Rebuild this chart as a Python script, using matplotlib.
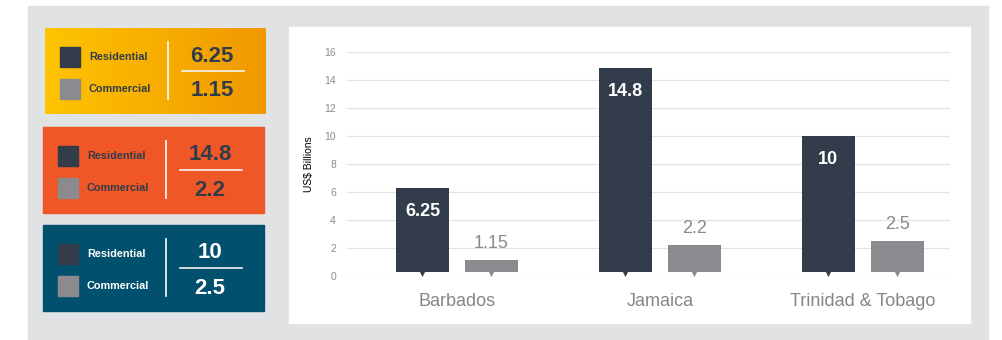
import numpy as np
import matplotlib
matplotlib.use("Agg")
from matplotlib import pyplot as plt
from matplotlib.patches import Rectangle

plt.rcParams['font.family'] = ['Liberation Sans', 'DejaVu Sans']

# chart data
countries = ["Barbados", "Jamaica", "Trinidad & Tobago"]
residential = [6.25, 14.8, 10]
commercial = [1.15, 2.2, 2.5]
y_ticks = [0, 2, 4, 6, 8, 10, 12, 14, 16]
y_label = "US$ Billions"

# side panel styling
box_colors = ["#f9b000", "#ef5726", "#00506e"]
box_text_colors = ["#313c4b", "#313c4b", "#ffffff"]

RES_COLOR = "#323c4a"
COM_COLOR = "#8b8a8f"
GREY_TXT = "#8a8a8e"

W, H = 1003, 340
fig = plt.figure(figsize=(W / 100, H / 100), dpi=100)
fig.patch.set_facecolor("white")

# background layer in pixel coordinates
bg = fig.add_axes([0, 0, 1, 1])
bg.set_xlim(0, W)
bg.set_ylim(H, 0)
bg.axis("off")
bg.add_patch(Rectangle((28, 6), 960, 334, color="#e1e2e4", zorder=0))
bg.add_patch(Rectangle((289, 27), 681, 296, color="white", zorder=1))

box_tops = [28, 127, 225]
box_x = [45, 43, 43]
for i, top in enumerate(box_tops):
    x0 = box_x[i]
    if i == 0:
        # yellow -> amber horizontal gradient
        grad = np.linspace(0, 1, 256).reshape(1, -1)
        cmap = matplotlib.colors.LinearSegmentedColormap.from_list("g", ["#fec400", "#f09800"])
        bg.imshow(grad, cmap=cmap, aspect="auto", extent=(x0, x0 + 221, top + 86, top), zorder=2)
    else:
        bg.add_patch(Rectangle((x0, top), 221, 86, color=box_colors[i], zorder=2))
    tc = box_text_colors[i]
    bg.add_patch(Rectangle((x0 + 15, top + 19), 20, 20, color=RES_COLOR, zorder=3))
    bg.add_patch(Rectangle((x0 + 15, top + 51), 20, 20, color=COM_COLOR, zorder=3))
    bg.text(x0 + 44, top + 29, "Residential", fontsize=7.8, fontweight="bold", color=tc,
            va="center", ha="left", zorder=4)
    bg.text(x0 + 44, top + 61, "Commercial", fontsize=7.8, fontweight="bold", color=tc,
            va="center", ha="left", zorder=4)
    bg.plot([x0 + 123, x0 + 123], [top + 14, top + 71], color="white", lw=1.2, zorder=4)
    bg.plot([x0 + 137, x0 + 199], [top + 43, top + 43], color="#f4f4f4", lw=1.2, zorder=4)
    bg.text(x0 + 167, top + 28, f"{residential[i]:g}", fontsize=16, fontweight="bold", color=tc,
            va="center", ha="center", zorder=4)
    bg.text(x0 + 167, top + 63, f"{commercial[i]:g}", fontsize=16, fontweight="bold", color=tc,
            va="center", ha="center", zorder=4)

# bar chart
ax = fig.add_axes([347 / W, 1 - 276 / H, (950 - 347) / W, (276 - 51.5) / H])
ax.patch.set_alpha(0)
x = np.arange(len(countries))
bw = 0.26
off = 0.17
base = 0.3
ax.bar(x - off, np.array(residential) - base, bw, bottom=base, color=RES_COLOR, zorder=3)
ax.bar(x + off, np.array(commercial) - base, bw, bottom=base, color=COM_COLOR, zorder=3)
ax.scatter(x - off, [0.12] * len(x), marker="v", s=14, color=RES_COLOR, zorder=3, linewidths=0)
ax.scatter(x + off, [0.12] * len(x), marker="v", s=14, color=COM_COLOR, zorder=3, linewidths=0)

for xi, v in zip(x, residential):
    ax.annotate(f"{v:g}", (xi - off, v), xytext=(0, -17), textcoords="offset points",
                ha="center", va="center", color="white", fontsize=13, fontweight="bold", zorder=4)
for xi, v in zip(x, commercial):
    ax.annotate(f"{v:g}", (xi + off, v), xytext=(0, 12), textcoords="offset points",
                ha="center", va="center", color=GREY_TXT, fontsize=13, zorder=4)

ax.set_xlim(-0.542, 2.43)
ax.set_ylim(0, 16)
ax.set_yticks(y_ticks)
ax.set_yticklabels([str(t) for t in y_ticks], fontsize=7.5, color=GREY_TXT)
ax.set_xticks(x)
ax.set_xticklabels(countries, fontsize=13, color="#86868a")
ax.tick_params(axis="both", length=0)
ax.tick_params(axis="y", pad=8)
ax.tick_params(axis="x", pad=12)
ax.grid(axis="y", color="#e3e3e3", lw=0.9, zorder=0)
for s in ax.spines.values():
    s.set_visible(False)
ax.set_ylabel(y_label, fontsize=7.5, color="black", labelpad=7)

fig.savefig("out.png", dpi=100)
